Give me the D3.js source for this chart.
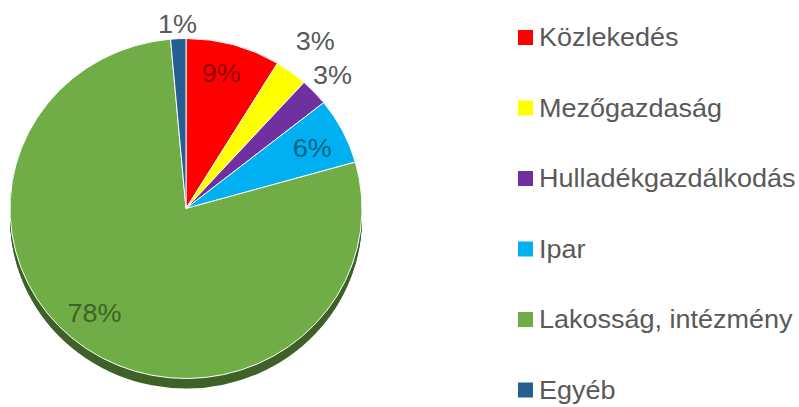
<!DOCTYPE html>
<html><head><meta charset="utf-8">
<script src="https://cdn.jsdelivr.net/npm/d3@7"></script>
<style>html,body{margin:0;padding:0;background:#fff;}</style>
</head><body>
<svg id="chart" width="799" height="407"></svg>
<script>
const categories = ["Közlekedés","Mezőgazdaság","Hulladékgazdálkodás","Ipar","Lakosság, intézmény","Egyéb"];
const values = [8.7, 3.0, 2.6, 6.3, 78.0, 1.4];
const colors = ["#ff0000","#ffff00","#7030a0","#00b0f0","#70ad47","#255e91"];

const svg = d3.select("#chart");
const cx = 186, cy = 208.5, R = 176, tilt = 0.966, depth = 10;
const font = "Liberation Sans, Arial, sans-serif";

const pie = d3.pie().sort(null).value(d => d)(values);
const arc = d3.arc().innerRadius(0).outerRadius(R);

// side wall (3D depth)
const side = svg.append("g");
for (let k = depth; k >= 1; k--) {
  side.append("g")
    .attr("transform", `translate(${cx},${cy + k}) scale(1,${tilt})`)
    .selectAll("path").data(pie).join("path")
    .attr("d", arc)
    .attr("fill", (d, i) => d3.color(colors[i]).darker(1.6));
}
// top face
svg.append("g")
  .attr("transform", `translate(${cx},${cy}) scale(1,${tilt})`)
  .selectAll("path").data(pie).join("path")
  .attr("d", arc)
  .attr("fill", (d, i) => colors[i])
  .attr("stroke", "#ffffff")
  .attr("stroke-width", 1);

// data labels
const labelRadius = [144, 216, 201, 141, 142, 191];
const labelShift = [-1.5, 0, 0, 0.8, 5.5, 0]; // degrees
const inside = [true, false, false, true, true, false];
pie.forEach((d, i) => {
  const a = (d.startAngle + d.endAngle) / 2 + labelShift[i] * Math.PI / 180;
  const r = labelRadius[i];
  const x = cx + r * Math.sin(a);
  const y = cy - r * Math.cos(a) * tilt;
  svg.append("text")
    .attr("transform", `translate(${x},${y}) scale(1.08,1)`)
    .attr("text-anchor", "middle")
    .attr("dominant-baseline", "central")
    .attr("font-family", font)
    .attr("font-size", 25)
    .attr("fill", inside[i] ? d3.color(colors[i]).darker(1.6) : "#595959")
    .text(Math.round(values[i]) + "%");
});

// legend
const legY = d3.scalePoint().domain(categories).range([37.5, 390]);
const leg = svg.append("g");
categories.forEach((c, i) => {
  const y = legY(c);
  leg.append("rect")
    .attr("x", 518).attr("y", y - 7.5)
    .attr("width", 15).attr("height", 15)
    .attr("fill", colors[i]);
  leg.append("text")
    .attr("transform", `translate(539,${y}) scale(1.08,1)`)
    .attr("dominant-baseline", "central")
    .attr("font-family", font)
    .attr("font-size", 25)
    .attr("fill", "#595959")
    .text(c);
});
</script>
</body></html>
